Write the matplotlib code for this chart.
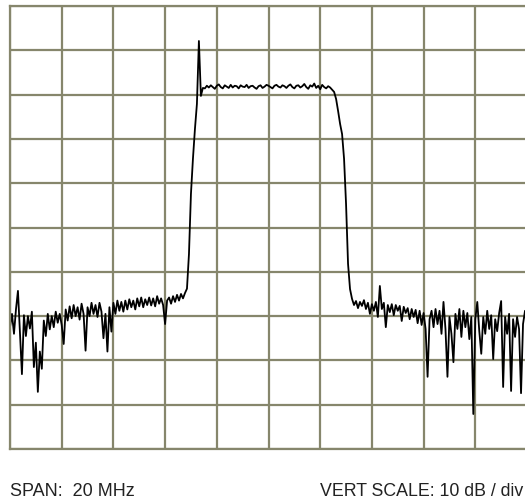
import numpy as np
import matplotlib
matplotlib.use('Agg')
import matplotlib.pyplot as plt

# spectrum analyzer sweep, ref level 0 dB, 10 dB/div, span 20 MHz
span_mhz = 20
center_mhz = 0

level_db = [
    # left noise floor
    -72.5, -69.5, -74.0, -68.5, -64.3, -73.5, -83.1, -69.8, -74.5, -70.0,
    -72.8, -69.0, -81.5, -76.0, -87.1, -78.0, -81.9, -71.0, -74.5, -69.5,
    -73.0, -70.0, -72.5, -69.0, -71.5, -69.5, -72.0, -76.3, -68.5, -71.0,
    -67.8, -70.5, -67.5, -70.0, -68.0, -70.8, -67.2, -69.5, -77.8, -68.0,
    -70.0, -67.0, -69.5, -67.5, -70.2, -67.0, -69.0, -75.0, -69.5, -78.0,
    -68.0, -73.5, -67.0, -69.5, -66.5, -68.8, -66.8, -69.0, -66.5, -68.5,
    -66.2, -68.0, -66.5, -68.5, -66.0, -67.8, -65.8, -68.0, -66.2, -67.5,
    -65.8, -67.6, -66.0, -67.8, -65.5, -67.2, -66.0, -67.5, -71.8, -66.5,
    -65.8, -67.2, -65.5, -66.8, -65.2, -66.5, -65.0, -66.0, -64.8, -63.8,
    # rising edge + carrier spike
    -56.0, -42.4, -34.5, -27.8, -22.1, -7.9, -20.3, -18.5,
    # channel plateau
    -18.6, -18.0, -18.4, -17.9, -18.3, -18.7, -18.0, -17.7, -18.3, -18.6,
    -17.9, -18.2, -18.5, -17.8, -18.4, -18.0, -18.1, -18.6, -17.9, -18.2,
    -18.3, -17.8, -18.5, -18.1, -18.0, -18.4, -18.7, -18.1, -17.9, -18.5,
    -18.2, -17.8, -18.0, -18.3, -18.6, -18.0, -17.8, -18.2, -18.4, -17.9,
    -18.1, -18.5, -18.0, -17.7, -18.3, -18.6, -18.0, -17.9, -18.4, -18.1,
    -17.6, -18.3, -18.7, -17.9, -18.2, -17.5, -18.5, -18.0, -18.8, -17.8,
    -18.3, -18.6, -18.1, -18.4, -18.9,
    # falling edge
    -19.4, -21.0, -23.7, -26.6, -28.9, -34.5, -44.7, -58.2, -63.9,
    # right noise floor
    -66.1, -67.5, -66.6, -68.2, -66.8, -67.7, -66.4, -68.4, -67.0, -69.5,
    -67.3, -68.8, -66.8, -70.2, -63.2, -68.4, -67.0, -72.5, -67.5, -69.1,
    -67.3, -69.8, -67.5, -68.8, -67.7, -71.1, -67.9, -69.3, -68.2, -70.7,
    -68.4, -70.2, -68.6, -71.6, -68.8, -72.0, -69.3, -72.9, -83.7, -70.7,
    -68.8, -72.5, -68.4, -71.8, -68.8, -74.0, -66.8, -72.9, -83.7, -70.2,
    -74.0, -80.4, -69.5, -72.9, -68.4, -74.7, -68.8, -72.5, -69.3, -75.2,
    -70.2, -92.1, -70.7, -66.8, -73.4, -78.5, -70.2, -74.0, -68.8, -72.9,
    -69.8, -79.7, -70.7, -73.4, -69.3, -66.6, -86.0, -70.2, -74.0, -69.5,
    -86.9, -70.7, -74.7, -70.2, -72.9, -87.4, -71.8, -68.8, -72.9,
]

freq_mhz = np.linspace(center_mhz - span_mhz / 2, center_mhz + span_mhz / 2, len(level_db))

fig = plt.figure(figsize=(5.25, 5.02), dpi=100)
ax = fig.add_axes([10 / 525, 52 / 502, 517 / 525, 443 / 502])

grid_col = '#86866c'
ax.set_xlim(center_mhz - span_mhz / 2, center_mhz + span_mhz / 2)
ax.set_ylim(-100, 0)
ax.set_xticks(np.linspace(-10, 10, 11))
ax.set_yticks(np.linspace(-100, 0, 11))
ax.tick_params(length=0, labelbottom=False, labelleft=False)
ax.grid(True, color=grid_col, linewidth=1.6)
for s in ax.spines.values():
    s.set_color(grid_col)
    s.set_linewidth(1.6)

ax.plot(freq_mhz, level_db, color='black', linewidth=1.3)

fig.text(10 / 525, 6 / 502, 'SPAN:  20 MHz', fontsize=13, color='#222222',
         family='Liberation Sans', ha='left', va='baseline')
fig.text(523 / 525, 6 / 502, 'VERT SCALE: 10 dB / div', fontsize=12.8, color='#222222',
         family='Liberation Sans', ha='right', va='baseline')

fig.savefig('out.png', dpi=100)
